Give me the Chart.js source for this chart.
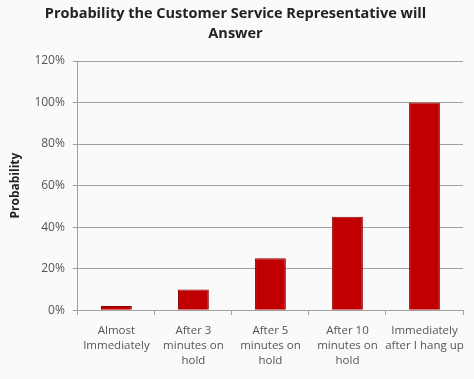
<!DOCTYPE html>
<html>
<head>
<meta charset="utf-8">
<script src="https://cdn.jsdelivr.net/npm/chart.js@4/dist/chart.umd.min.js"></script>
<style>
html,body{margin:0;padding:0;background:#fafafa;}
#wrap{width:474px;height:379px;}
</style>
</head>
<body>
<div id="wrap"><canvas id="c" width="474" height="379"></canvas></div>
<script>
const categories = [
  ["Almost", "Immediately"],
  ["After 3", "minutes on", "hold"],
  ["After 5", "minutes on", "hold"],
  ["After 10", "minutes on", "hold"],
  ["Immediately", "after I hang up"]
];
const probability = [2, 10, 25, 45, 100];
const yTicks = [0, 20, 40, 60, 80, 100, 120];
const titleLines = ["Probability the Customer Service Representative will", "Answer"];

new Chart(document.getElementById('c'), {
  type: 'bar',
  data: {
    labels: categories,
    datasets: [{
      data: probability,
      backgroundColor: '#C00000',
      borderColor: '#8E0000',
      borderWidth: 1,
      barPercentage: 0.4,
      categoryPercentage: 1.0
    }]
  },
  options: {
    responsive: false,
    animation: false,
    devicePixelRatio: 1,
    layout: { padding: { left: 8, right: 11, top: 4, bottom: 3 } },
    plugins: {
      legend: { display: false },
      tooltip: { enabled: false },
      title: {
        display: true,
        text: titleLines,
        color: '#222',
        font: { family: 'Open Sans', size: 14.5, weight: 'bold', lineHeight: 1.38 },
        padding: { top: 0, bottom: 17 }
      }
    },
    scales: {
      y: {
        min: 0, max: 120,
        afterBuildTicks: (axis) => { axis.ticks = yTicks.map(v => ({ value: v })); },
        ticks: {
          callback: (v) => v + '%',
          color: '#555',
          font: { family: 'Open Sans', size: 12 },
          padding: 8
        },
        grid: { color: '#a0a0a0', lineWidth: 1, tickLength: 5, drawTicks: true },
        border: { color: '#a0a0a0' },
        title: {
          display: true,
          text: 'Probability',
          color: '#222',
          font: { family: 'Open Sans', size: 12, weight: 'bold' },
          padding: { top: 0, bottom: 4 }
        }
      },
      x: {
        grid: { display: true, drawOnChartArea: false, color: '#a0a0a0', tickLength: 5, offset: true },
        border: { color: '#a0a0a0' },
        ticks: {
          color: '#555',
          font: { family: 'Open Sans', size: 11.5, lineHeight: 1.3 },
          maxRotation: 0, minRotation: 0, autoSkip: false,
          padding: 8
        }
      }
    }
  }
});
</script>
</body>
</html>
